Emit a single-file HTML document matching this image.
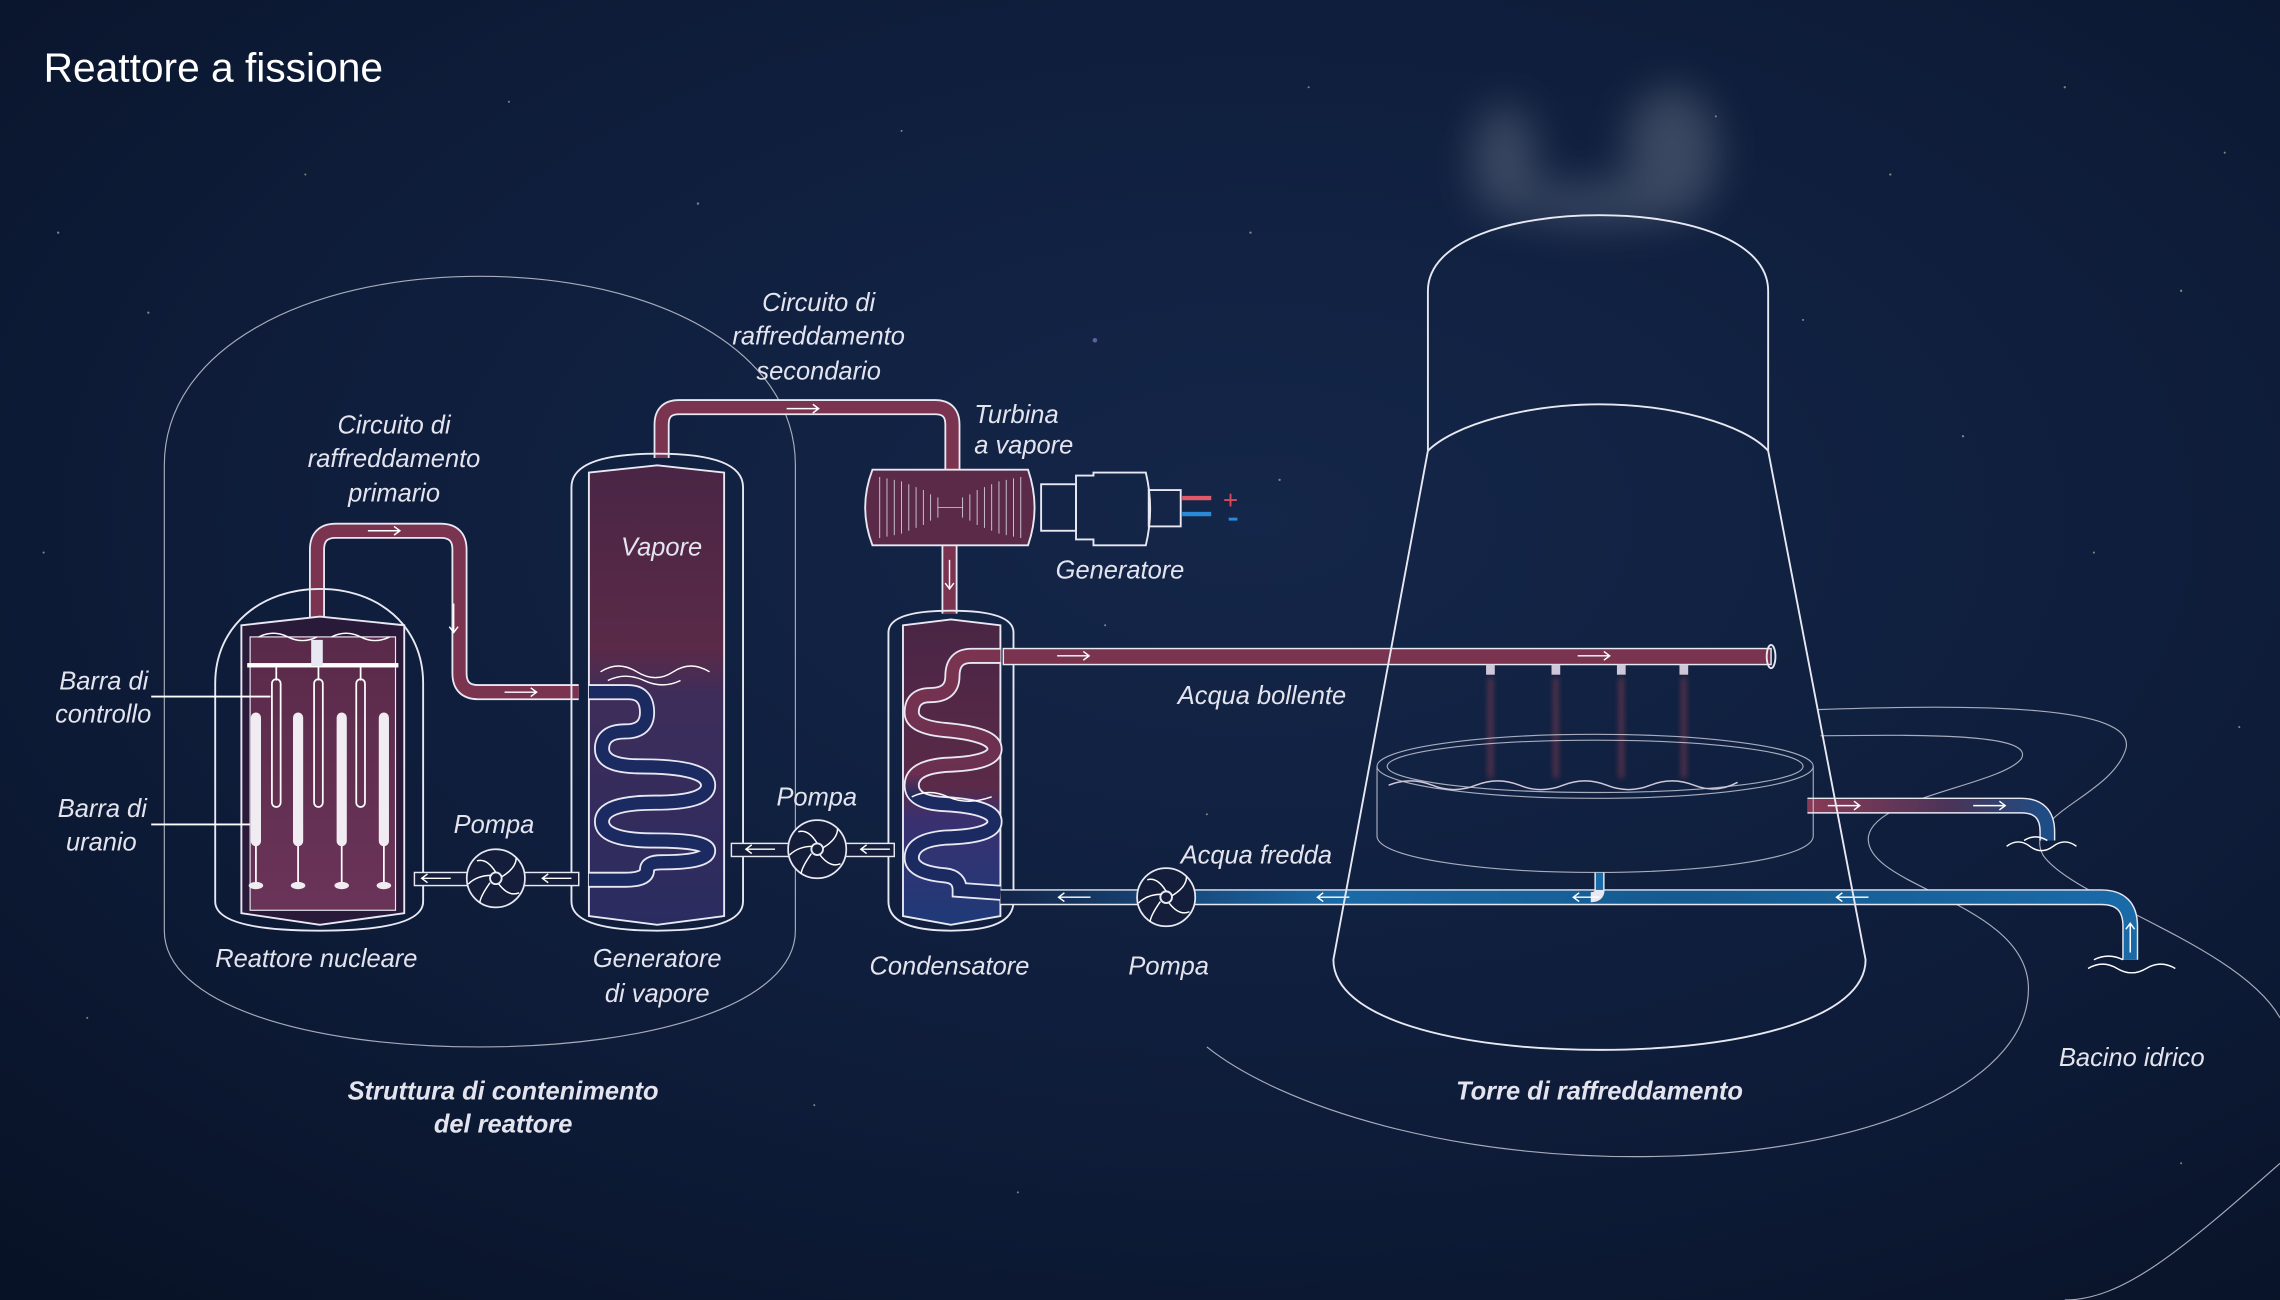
<!DOCTYPE html>
<html><head><meta charset="utf-8"><style>
html,body{margin:0;padding:0;background:#0b1630;}
svg{display:block}
text{font-family:"Liberation Sans",sans-serif;fill:#e4e4ee;font-style:italic;font-size:17.5px}
.b{font-weight:bold}
.l{fill:none;stroke:#e8e8f2;stroke-width:1.3}
.t{fill:none;stroke:#e8e8f2;stroke-width:0.8;opacity:.7}
.ar{fill:none;stroke:#fff;stroke-width:1}
</style></head><body>
<svg width="2280" height="1300" viewBox="0 0 1568 894" xmlns="http://www.w3.org/2000/svg">
<defs>
<radialGradient id="bg" cx="0.55" cy="0.4" r="0.8">
<stop offset="0" stop-color="#142649"/><stop offset="0.6" stop-color="#0e1c39"/><stop offset="1" stop-color="#081226"/></radialGradient>
<linearGradient id="react" x1="0" y1="0" x2="0" y2="1"><stop offset="0" stop-color="#5a2a4a"/><stop offset="1" stop-color="#6a3458"/></linearGradient>
<linearGradient id="sg" x1="0" y1="0" x2="0" y2="1"><stop offset="0" stop-color="#4a2545"/><stop offset="0.4" stop-color="#5a2a48"/><stop offset="0.5" stop-color="#3e2d5a"/><stop offset="1" stop-color="#2a2c60"/></linearGradient>
<linearGradient id="cd" x1="0" y1="0" x2="0" y2="1"><stop offset="0" stop-color="#4a2545"/><stop offset="0.55" stop-color="#5a2a48"/><stop offset="0.65" stop-color="#3a3070"/><stop offset="1" stop-color="#1f3a78"/></linearGradient>
<linearGradient id="ccoil" x1="0" y1="0" x2="0" y2="1"><stop offset="0" stop-color="#7a3450"/><stop offset="0.5" stop-color="#6a2f50"/><stop offset="0.6" stop-color="#1c2a62"/><stop offset="1" stop-color="#1c2a62"/></linearGradient>
<linearGradient id="cold" x1="0" y1="0" x2="1" y2="0"><stop offset="0" stop-color="#132448"/><stop offset="0.3" stop-color="#1a6aa8"/><stop offset="0.6" stop-color="#155a90"/><stop offset="1" stop-color="#1a6aa8"/></linearGradient>
<linearGradient id="out" x1="0" y1="0" x2="1" y2="0"><stop offset="0" stop-color="#8a3a55"/><stop offset="0.6" stop-color="#4a3458"/><stop offset="1" stop-color="#1d4d86"/></linearGradient>
<filter id="blur" x="-100%" y="-100%" width="300%" height="300%"><feGaussianBlur stdDeviation="14"/></filter>
<filter id="b2" x="-200%" y="-50%" width="500%" height="200%"><feGaussianBlur stdDeviation="2"/></filter>
</defs>
<rect width="1568" height="894" fill="url(#bg)"/>
<g fill="#d8c8a8" opacity=".6">
<circle cx="40" cy="160" r=".8"/><circle cx="102" cy="215" r=".8"/><circle cx="210" cy="120" r=".7"/><circle cx="350" cy="70" r=".7"/><circle cx="480" cy="140" r=".8"/><circle cx="620" cy="90" r=".7"/><circle cx="753" cy="234" r="1.6" fill="#8a8ad8"/><circle cx="860" cy="160" r=".8"/><circle cx="900" cy="60" r=".7"/><circle cx="1300" cy="120" r=".8"/><circle cx="1420" cy="60" r=".8"/><circle cx="1500" cy="200" r=".8"/><circle cx="1530" cy="105" r=".7"/><circle cx="1350" cy="300" r=".8"/><circle cx="1440" cy="380" r=".7"/><circle cx="880" cy="330" r=".8"/><circle cx="60" cy="700" r=".7"/><circle cx="560" cy="760" r=".7"/><circle cx="700" cy="820" r=".7"/><circle cx="1500" cy="800" r=".7"/><circle cx="1240" cy="220" r=".7"/><circle cx="760" cy="430" r=".7"/><circle cx="30" cy="380" r=".7"/><circle cx="1540" cy="500" r=".7"/><circle cx="830" cy="560" r=".7"/><circle cx="1180" cy="80" r=".7"/>
</g>
<g filter="url(#blur)" fill="#8a94a4" opacity=".35"><ellipse cx="1035" cy="110" rx="22" ry="38"/><ellipse cx="1150" cy="105" rx="32" ry="45"/><ellipse cx="1100" cy="140" rx="60" ry="14"/></g>
<path class="t" d="M1250,488 C1360,484 1470,485 1462,515 C1452,548 1390,560 1405,588 C1425,618 1540,650 1568,700"/>
<path class="t" d="M1252,506 C1330,505 1400,505 1390,522 C1375,540 1290,548 1285,575 C1280,610 1395,620 1395,680 C1395,740 1300,790 1150,795 C1000,800 880,760 830,720"/>
<path class="t" d="M1568,800 C1500,860 1460,894 1420,894"/>
<path class="t" d="M113,640 L113,320 C113,240 210,190 330,190 C450,190 547,240 547,320 L547,640 C547,690 450,720 330,720 C210,720 113,690 113,640 Z"/>
<path d="M218,440 L218,378 Q218,365 231,365 L303,365 Q316,365 316,378 L316,463 Q316,476 329,476 L398,476" fill="none" stroke="#e8e8f2" stroke-width="11"/>
<path d="M218,440 L218,378 Q218,365 231,365 L303,365 Q316,365 316,378 L316,463 Q316,476 329,476 L398,476" fill="none" stroke="#7a3450" stroke-width="8.5"/>
<path d="M455,315 L455,292 Q455,280 467,280 L643,280 Q655,280 655,292 L655,325" fill="none" stroke="#e8e8f2" stroke-width="11"/>
<path d="M455,315 L455,292 Q455,280 467,280 L643,280 Q655,280 655,292 L655,325" fill="none" stroke="#7a3450" stroke-width="8.5"/>
<path d="M653,375 L653,422" stroke="#e8e8f2" stroke-width="11"/><path d="M653,375 L653,422" stroke="#7a3450" stroke-width="8.5"/>
<path class="l" d="M148,620 L148,470 C148,430 180,405 220,405 C260,405 291,430 291,470 L291,620 Q291,640 220,640 Q148,640 148,620 Z"/>
<path class="l" style="fill:#2a1a3a" d="M166,430 L220,424 L278,430 L278,628 L220,636 L166,628 Z"/>
<rect x="172" y="438" width="100" height="188" fill="url(#react)" stroke="#e8e8f2" stroke-width=".8"/>
<path d="M178,438 q10,-5 20,0 t20,0 M228,438 q10,-5 20,0 t20,0" fill="none" stroke="#fff" stroke-width="1"/>
<rect x="170" y="456" width="104" height="3" fill="#fff"/>
<path d="M218,440 L218,458" stroke="#e8e8f2" stroke-width="8"/>
<g stroke="#fff" stroke-width="1.2" fill="none">
<line x1="190" y1="459" x2="190" y2="468"/><line x1="219" y1="459" x2="219" y2="468"/><line x1="248" y1="459" x2="248" y2="468"/>
<rect x="187" y="467" width="6" height="88" rx="3"/><rect x="216" y="467" width="6" height="88" rx="3"/><rect x="245" y="467" width="6" height="88" rx="3"/>
<line x1="176" y1="580" x2="176" y2="608"/><line x1="205" y1="580" x2="205" y2="608"/><line x1="235" y1="580" x2="235" y2="608"/><line x1="264" y1="580" x2="264" y2="608"/>
</g>
<g fill="#f0ecf2"><rect x="172.5" y="490" width="7" height="92" rx="3.5"/><rect x="201.5" y="490" width="7" height="92" rx="3.5"/><rect x="231.5" y="490" width="7" height="92" rx="3.5"/><rect x="260.5" y="490" width="7" height="92" rx="3.5"/>
<ellipse cx="176" cy="609" rx="5" ry="2.5"/><ellipse cx="205" cy="609" rx="5" ry="2.5"/><ellipse cx="235" cy="609" rx="5" ry="2.5"/><ellipse cx="264" cy="609" rx="5" ry="2.5"/></g>
<line x1="104" y1="479" x2="186" y2="479" stroke="#fff" stroke-width="1.3"/>
<line x1="104" y1="567" x2="172" y2="567" stroke="#fff" stroke-width="1.3"/>
<path class="l" d="M393,620 L393,335 Q393,312 452,312 Q511,312 511,335 L511,620 Q511,640 452,640 Q393,640 393,620 Z"/>
<path class="l" style="fill:url(#sg)" d="M405,325 L452,320 L498,325 L498,630 L452,636 L405,630 Z"/>
<path d="M413,462 q12,-8 25,0 t25,0 t25,0 M418,468 q12,-6 25,0 t25,0" fill="none" stroke="#fff" stroke-width="1"/>
<path d="M405,476 L432,476 Q445,476 445,490 Q445,503 430,503 Q414,503 414,515 Q414,527 440,527 Q487,527 487,540 Q487,552 450,552 Q414,552 414,565 Q414,578 450,578 Q487,578 487,585 Q487,593 455,593 Q445,593 445,598 Q445,605 430,605 L405,605" fill="none" stroke="#e8e8f2" stroke-width="11"/>
<path d="M405,476 L432,476 Q445,476 445,490 Q445,503 430,503 Q414,503 414,515 Q414,527 440,527 Q487,527 487,540 Q487,552 450,552 Q414,552 414,565 Q414,578 450,578 Q487,578 487,585 Q487,593 455,593 Q445,593 445,598 Q445,605 430,605 L405,605" fill="none" stroke="#1c2a62" stroke-width="8.5"/>
<path class="l" d="M611,620 L611,435 Q611,420 654,420 Q697,420 697,435 L697,620 Q697,640 654,640 Q611,640 611,620 Z"/>
<path class="l" style="fill:url(#cd)" d="M621,430 L654,426 L688,430 L688,630 L654,636 L621,630 Z"/>
<path d="M688,451 L668,451 Q655,451 655,465 Q655,478 640,478 Q627,478 627,490 Q627,500 650,502 Q684,505 684,515 Q684,525 650,526 Q627,528 627,540 Q627,552 650,553 Q684,555 684,565 Q684,575 650,576 Q627,578 627,590 Q627,600 650,602 Q660,603 660,612 L688,614" fill="none" stroke="#e8e8f2" stroke-width="11"/>
<path d="M688,451 L668,451 Q655,451 655,465 Q655,478 640,478 Q627,478 627,490 Q627,500 650,502 Q684,505 684,515 Q684,525 650,526 Q627,528 627,540 Q627,552 650,553 Q684,555 684,565 Q684,575 650,576 Q627,578 627,590 Q627,600 650,602 Q660,603 660,612 L688,614" fill="none" stroke="url(#ccoil)" stroke-width="8.5"/>
<path d="M627,548 q12,-6 25,0 t30,0" fill="none" stroke="#fff" stroke-width="1"/>
<path class="l" style="fill:#5a2a48" d="M600,323 L707,323 Q716,349 707,375 L600,375 Q590,349 600,323 Z"/>
<g stroke="#d8d0e0" stroke-width=".6" fill="none">
<path d="M605,328 L605,370 M610,329 L610,369 M615,330 L615,368 M620,331 L620,367 M625,333 L625,365 M630,335 L630,363 M635,337 L635,361 M640,340 L640,358 M645,342 L645,356 M662,342 L662,356 M667,340 L667,358 M672,337 L672,361 M677,335 L677,363 M682,333 L682,365 M687,331 L687,367 M692,330 L692,368 M697,329 L697,369 M702,328 L702,370 M645,349 L662,349"/></g>
<rect x="716" y="333" width="24" height="32" class="l"/>
<path class="l" d="M740,327 L752,327 L752,325 L788,325 Q794,350 788,375 L752,375 L752,371 L740,371 Z"/>
<rect x="790" y="337" width="22" height="25" class="l"/>
<rect x="813" y="341" width="20" height="3" fill="#e05a6a"/><rect x="813" y="352" width="20" height="3" fill="#2a8ad8"/>
<text x="841" y="350" style="font-style:normal;fill:#d84a5a;font-size:18px">+</text>
<rect x="845" y="356" width="6" height="2" fill="#2a8ad8"/>
<rect x="690" y="446" width="528" height="11" fill="#7a3450" stroke="#e8e8f2" stroke-width="1"/>
<ellipse cx="1218" cy="451.5" rx="3" ry="8" class="l"/>
<g fill="#cfc8d8"><rect x="1022" y="457" width="6" height="7"/><rect x="1067" y="457" width="6" height="7"/><rect x="1112" y="457" width="6" height="7"/><rect x="1155" y="457" width="6" height="7"/></g>
<g stroke="#b84a5a" stroke-width="3" opacity=".5" filter="url(#b2)"><line x1="1025" y1="466" x2="1025" y2="535"/><line x1="1070" y1="466" x2="1070" y2="535"/><line x1="1115" y1="466" x2="1115" y2="535"/><line x1="1158" y1="466" x2="1158" y2="535"/></g>
<path d="M688,617 L1445,617 Q1465,617 1465,637 L1465,660" fill="none" stroke="#e8e8f2" stroke-width="11"/>
<path d="M688,617 L1445,617 Q1465,617 1465,637 L1465,660" fill="none" stroke="url(#cold)" stroke-width="9"/>
<path d="M1100,600 L1100,612 Q1100,617 1094,617" fill="none" stroke="#e8e8f2" stroke-width="7"/><path d="M1100,600 L1100,612" stroke="#1a6aa8" stroke-width="5"/>
<path d="M1243,554 L1390,554 Q1408,554 1408,572 L1408,578" fill="none" stroke="#e8e8f2" stroke-width="11"/>
<path d="M1243,554 L1390,554 Q1408,554 1408,572 L1408,578" fill="none" stroke="url(#out)" stroke-width="9"/>
<path d="M1380,582 q8,-6 16,0 t16,0 t16,0 M1392,578 q8,-5 16,0" fill="none" stroke="#fff" stroke-width="1"/>
<path d="M1436,666 q10,-6 20,0 t20,0 t20,0 M1440,660 q10,-5 20,0" fill="none" stroke="#fff" stroke-width="1"/>
<g>
<rect x="285" y="600" width="113" height="9" fill="#141e3a" stroke="#e8e8f2" stroke-width="1"/>
<circle cx="341" cy="604" r="20" fill="#141e3a" stroke="#e8e8f2" stroke-width="1.2"/><circle cx="341" cy="604" r="4" class="l"/>
<path class="ar" d="M341,600 Q335,590 328,592 M345,603 Q355,597 355,590 M343,608 Q350,617 357,614 M337,607 Q330,617 330,621 M338,602 Q328,602 322,608"/>
<rect x="503" y="580" width="112" height="9" fill="#141e3a" stroke="#e8e8f2" stroke-width="1"/>
<circle cx="562" cy="584" r="20" fill="#141e3a" stroke="#e8e8f2" stroke-width="1.2"/><circle cx="562" cy="584" r="4" class="l"/>
<path class="ar" d="M562,580 Q556,570 549,572 M566,583 Q576,577 576,570 M564,588 Q571,597 578,594 M558,587 Q551,597 551,601 M559,582 Q549,582 543,588"/>
<circle cx="802" cy="617" r="20" fill="#141e3a" stroke="#e8e8f2" stroke-width="1.2"/><circle cx="802" cy="617" r="4" class="l"/>
<path class="ar" d="M802,613 Q796,603 789,605 M806,616 Q816,610 816,603 M804,621 Q811,630 818,627 M798,620 Q791,630 791,634 M799,615 Q789,615 783,621"/>
</g>
<g class="ar">
<path d="M253,365 h22 m-4,-3 l4,3 -4,3"/><path d="M347,476 h22 m-4,-3 l4,3 -4,3"/><path d="M312,415 v20 m-3,-4 l3,4 3,-4"/>
<path d="M541,281 h22 m-4,-3 l4,3 -4,3"/><path d="M653,385 v20 m-3,-4 l3,4 3,-4"/>
<path d="M727,451 h22 m-4,-3 l4,3 -4,3"/><path d="M1085,451 h22 m-4,-3 l4,3 -4,3"/>
<path d="M1257,554 h22 m-4,-3 l4,3 -4,3"/><path d="M1357,554 h22 m-4,-3 l4,3 -4,3"/>
<path d="M750,617 h-22 m4,-3 l-4,3 4,3"/><path d="M928,617 h-22 m4,-3 l-4,3 4,3"/><path d="M1100,617 h-18 m4,-3 l-4,3 4,3"/><path d="M1285,617 h-22 m4,-3 l-4,3 4,3"/>
<path d="M1465,655 v-20 m-3,4 l3,-4 3,4"/>
<path d="M310,604 h-20 m4,-3 l-4,3 4,3"/><path d="M393,604 h-20 m4,-3 l-4,3 4,3"/><path d="M533,584 h-20 m4,-3 l-4,3 4,3"/><path d="M612,584 h-20 m4,-3 l-4,3 4,3"/>
</g>
<g class="t">
<ellipse cx="1097" cy="527" rx="150" ry="22"/><ellipse cx="1097" cy="527" rx="143" ry="18"/>
<path d="M947,527 L947,575 C947,590 1020,600 1097,600 C1175,600 1247,590 1247,575 L1247,527"/>
</g>
<path d="M955,540 q15,-6 30,0 t30,0 t30,0 t30,0 t30,0 t30,0 t30,0 t30,-2" fill="none" stroke="#d0c8d8" stroke-width="1"/>
<g class="l" stroke-width="1.6">
<path d="M982,310 L982,200 C982,165 1040,148 1100,148 C1160,148 1216,165 1216,200 L1216,310"/>
<path d="M982,310 C1000,292 1050,278 1100,278 C1150,278 1200,292 1216,310"/>
<path d="M982,310 L917,660 C917,700 1000,722 1100,722 C1200,722 1283,700 1283,660 L1216,310"/>
</g>
<text x="30" y="56" style="font-style:normal;font-size:28px;fill:#fff">Reattore a fissione</text>
<g text-anchor="middle">
<text x="271" y="298">Circuito di</text><text x="271" y="321">raffreddamento</text><text x="271" y="345">primario</text>
<text x="563" y="214">Circuito di</text><text x="563" y="237">raffreddamento</text><text x="563" y="261">secondario</text>
<text x="455" y="382">Vapore</text>
<text x="452" y="665">Generatore</text><text x="452" y="689">di vapore</text>
<text x="346" y="756" class="b">Struttura di contenimento</text><text x="346" y="779" class="b">del reattore</text>
<text x="1100" y="756" class="b">Torre di raffreddamento</text>
</g>
<g text-anchor="end"><text x="102" y="474">Barra di</text><text x="104" y="497">controllo</text><text x="101" y="562">Barra di</text><text x="94" y="585">uranio</text></g>
<text x="148" y="665">Reattore nucleare</text>
<text x="312" y="573">Pompa</text><text x="534" y="554">Pompa</text><text x="776" y="670">Pompa</text>
<text x="670" y="291">Turbina</text><text x="670" y="312">a vapore</text>
<text x="726" y="398">Generatore</text>
<text x="598" y="670">Condensatore</text>
<text x="810" y="484">Acqua bollente</text>
<text x="812" y="594">Acqua fredda</text>
<text x="1416" y="733">Bacino idrico</text>
</svg>
</body></html>
